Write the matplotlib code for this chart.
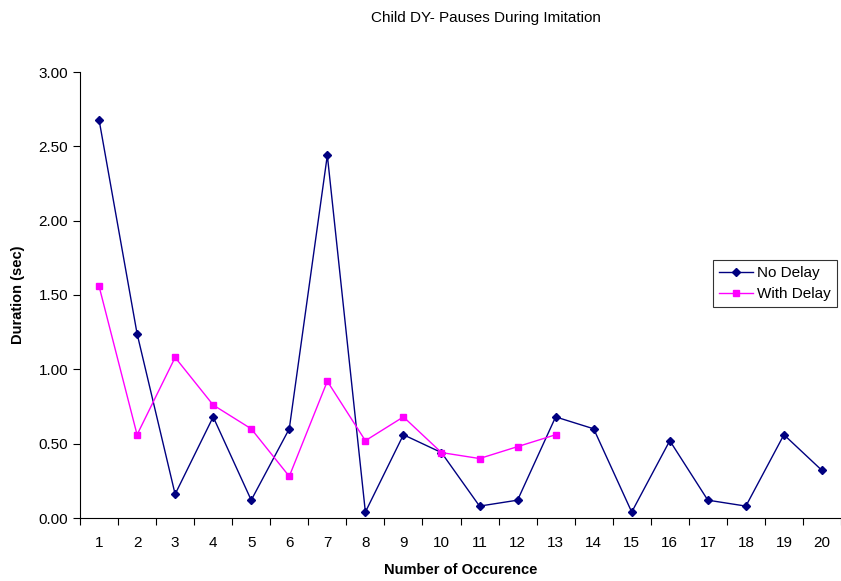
import matplotlib
matplotlib.use('Agg')
import matplotlib.pyplot as plt
import numpy as np

plt.rcParams['font.family'] = ['Liberation Sans', 'DejaVu Sans']

occurrences = list(range(1, 21))
no_delay = [2.68, 1.24, 0.16, 0.68, 0.12, 0.60, 2.44, 0.04, 0.56, 0.44,
            0.08, 0.12, 0.68, 0.60, 0.04, 0.52, 0.12, 0.08, 0.56, 0.32]
with_delay = [1.56, 0.56, 1.08, 0.76, 0.60, 0.28, 0.92, 0.52, 0.68, 0.44,
              0.40, 0.48, 0.56]

fig = plt.figure(figsize=(8.41, 5.81), dpi=100)
ax = fig.add_axes([80 / 841, 1 - 518 / 581, 761 / 841, (518 - 72) / 581])

ax.plot(occurrences, no_delay, color='#000080', marker='D', markersize=4.5,
        linewidth=1, label='No Delay')
ax.plot(occurrences[:len(with_delay)], with_delay, color='#FF00FF', marker='s',
        markersize=5, linewidth=1, label='With Delay')

ax.set_xlim(0.5, 20.5)
ax.set_ylim(0, 3.0)
# ticks sit between categories, labels at the centres
ax.set_xticks(np.arange(0.5, 21, 1))
ax.set_xticklabels([])
ax.set_xticks(occurrences, minor=True)
ax.set_xticklabels([str(o) for o in occurrences], minor=True, fontsize=11)
ax.tick_params(axis='x', which='minor', length=0, pad=13)
ax.tick_params(axis='x', which='major', length=5, direction='out')
ax.set_yticks(np.arange(0, 3.01, 0.5))
ax.set_yticklabels([f'{v:.2f}' for v in np.arange(0, 3.01, 0.5)], fontsize=11)
ax.tick_params(axis='y', length=5, direction='out')

ax.spines['top'].set_visible(False)
ax.spines['right'].set_visible(False)

ax.set_xlabel('Number of Occurence', fontsize=10.5, fontweight='bold', labelpad=9)
ax.set_ylabel('Duration (sec)', fontsize=10.5, fontweight='bold', labelpad=10)
fig.text(486 / 841, 1 - 18 / 581, 'Child DY- Pauses During Imitation',
         ha='center', va='center', fontsize=11)

leg = ax.legend(loc='upper left', fontsize=11, frameon=True, fancybox=False,
                edgecolor='black', borderpad=0.4, handlelength=2.2,
                handletextpad=0.3, labelspacing=0.45, borderaxespad=0)
leg.set_bbox_to_anchor((713 / 841, 1 - 260 / 581), transform=fig.transFigure)
leg.get_frame().set_linewidth(0.8)

fig.savefig('out.png', dpi=100)
